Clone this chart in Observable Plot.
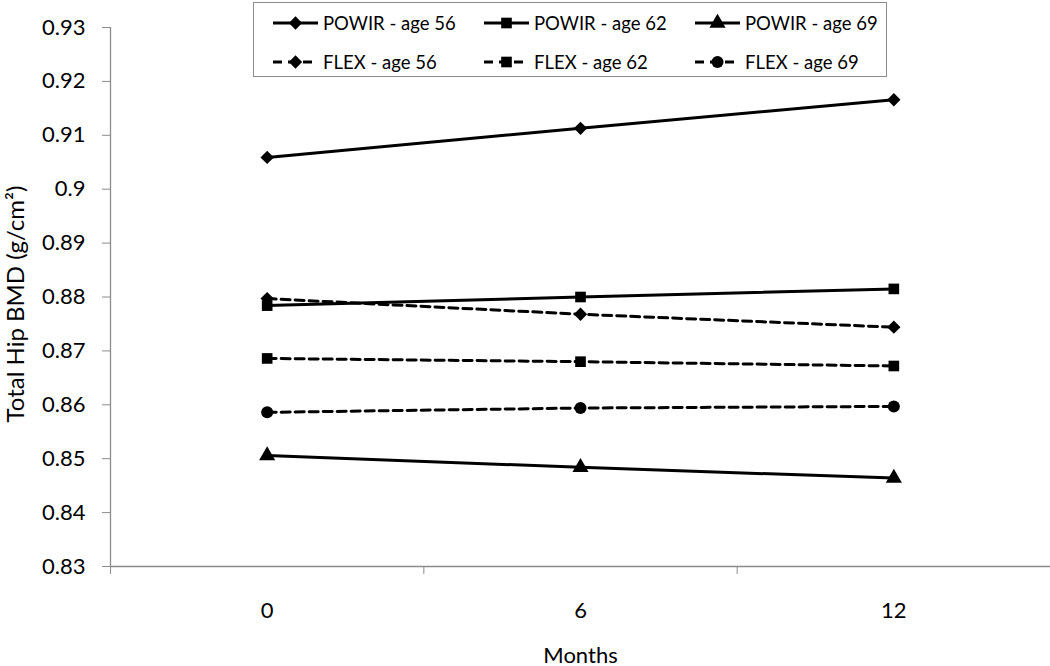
<!DOCTYPE html>
<html>
<head>
<meta charset="utf-8">
<script src="https://cdn.jsdelivr.net/npm/d3@7"></script>
<script src="https://cdn.jsdelivr.net/npm/@observablehq/plot@0.6"></script>
<style>
  body { margin: 0; background: white; font-family: Lato, "Open Sans", sans-serif; }
  #wrap { position: relative; width: 1050px; height: 666px; }
  #legend { position: absolute; left: 253px; top: 2px; width: 634px; height: 75px;
            border: 1.5px solid #8c8c8c; background: white; box-sizing: border-box; }
  .item { position: absolute; display: flex; align-items: center; font-size: 18.5px; color: #000; white-space: nowrap; }
  .item svg { margin-right: 5px; }
</style>
</head>
<body>
<div id="wrap"><div id="legend"></div></div>
<script>
const months = [0, 6, 12];
const xBoundaries = [-3, 3, 9, 15];
const yTicks = [0.83, 0.84, 0.85, 0.86, 0.87, 0.88, 0.89, 0.90, 0.91, 0.92, 0.93];
const seriesNames = ["POWIR - age 56", "POWIR - age 62", "POWIR - age 69",
                     "FLEX - age 56", "FLEX - age 62", "FLEX - age 69"];
const powir56 = [0.9059, 0.9113, 0.9166];
const powir62 = [0.8784, 0.8800, 0.8815];
const powir69 = [0.8506, 0.8484, 0.8464];
const flex56  = [0.8797, 0.8768, 0.8744];
const flex62  = [0.8686, 0.8680, 0.8672];
const flex69  = [0.8586, 0.8594, 0.8597];
const symbols = ["diamond2", "square", "triangle", "diamond2", "square", "circle"];

const seriesValues = [powir56, powir62, powir69, flex56, flex62, flex69];
const data = [];
seriesNames.forEach((s, i) => {
  months.forEach((m, j) => data.push({series: s, month: m, value: seriesValues[i][j], dashed: s.startsWith("FLEX")}));
});

const gray = "#8c8c8c";
const fmt = d => String(+d.toFixed(2));

const chart = Plot.plot({
  width: 1050,
  height: 666,
  marginLeft: 110,
  marginRight: 0,
  marginTop: 27,
  marginBottom: 100,
  style: { fontFamily: "Lato, 'Open Sans', sans-serif", background: "white", overflow: "visible" },
  x: { domain: [-3, 15] },
  y: { domain: [0.83, 0.93] },
  symbol: { domain: seriesNames, range: symbols },
  marks: [
    Plot.ruleX([-3], { y1: 0.83, y2: 0.93, stroke: gray, strokeWidth: 1.3 }),
    Plot.ruleY([0.83], { stroke: gray, strokeWidth: 1.3 }),
    Plot.axisY({ ticks: yTicks, tickSize: 8, tickFormat: () => "", color: gray, label: null }),
    Plot.axisY({ ticks: yTicks, tickSize: 0, tickPadding: 25, tickFormat: fmt, color: "black", fontSize: 22, label: null }),
    Plot.axisX({ ticks: xBoundaries, tickSize: 8, tickFormat: () => "", color: gray, label: null }),
    Plot.axisX({ ticks: months, tickSize: 0, tickPadding: 36, tickFormat: d => String(d), color: "black", fontSize: 22, label: null }),
    Plot.text(["Months"], { frameAnchor: "bottom", lineAnchor: "middle", dy: 89, fontSize: 22, fill: "black" }),
    Plot.text(["Total Hip BMD (g/cm²)"], { frameAnchor: "left", textAnchor: "middle", lineAnchor: "middle", dx: -94, dy: 7, rotate: -90, fontSize: 24, fill: "black" }),
    Plot.line(data.filter(d => !d.dashed), { x: "month", y: "value", z: "series", stroke: "black", strokeWidth: 3 }),
    Plot.line(data.filter(d => d.dashed), { x: "month", y: "value", z: "series", stroke: "black", strokeWidth: 3, strokeDasharray: "9,5" }),
    Plot.dot(data, { x: "month", y: "value", symbol: "series", fill: "black", r: 6 })
  ]
});
document.getElementById("wrap").prepend(chart);

// Legend
const legend = d3.select("#legend");
const symMap = { diamond2: d3.symbolDiamond2, square: d3.symbolSquare, triangle: d3.symbolTriangle, circle: d3.symbolCircle };
seriesNames.forEach((s, i) => {
  const col = i % 3, row = Math.floor(i / 3);
  const item = legend.append("div").attr("class", "item")
    .style("left", (19 + col * 211) + "px")
    .style("top", (9 + row * 39) + "px");
  const svg = item.append("svg").attr("width", 45).attr("height", 18);
  svg.append("line").attr("x1", 0).attr("x2", 45).attr("y1", 9).attr("y2", 9)
    .attr("stroke", "black").attr("stroke-width", 3)
    .attr("stroke-dasharray", s.startsWith("FLEX") ? "9,6" : null);
  svg.append("path").attr("transform", "translate(22.5,9)")
    .attr("d", d3.symbol(symMap[symbols[i]], Math.PI * 36)())
    .attr("fill", "black");
  item.append("span").text(s);
});
</script>
</body>
</html>
